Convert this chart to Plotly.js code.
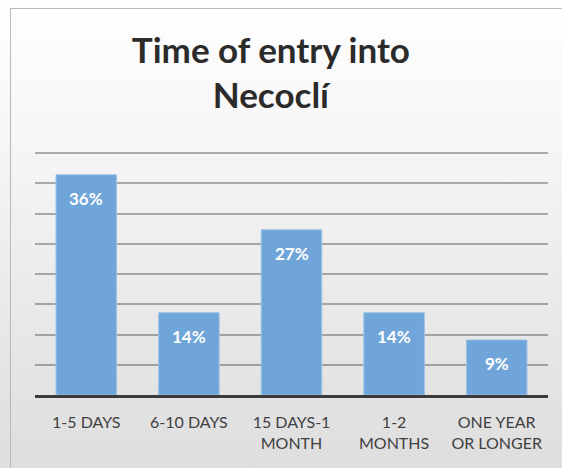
<!DOCTYPE html>
<html>
<head>
<meta charset="utf-8">
<script src="https://cdn.plot.ly/plotly-3.0.1.min.js"></script>
<style>
  html, body { margin:0; padding:0; width:562px; height:468px; overflow:hidden;
    background: linear-gradient(to bottom, #ffffff 0%, #f6f6f6 30%, #e6e6e6 75%, #dedede 100%); }
  #frame { position:absolute; left:10px; top:8px; width:620px; height:520px;
    border-left:1.5px solid #b8b8b8; border-top:1.5px solid #b8b8b8; pointer-events:none; }
  #chart { position:absolute; left:0; top:0; width:562px; height:468px; }
</style>
</head>
<body>
<div id="frame"></div>
<div id="chart"></div>
<script>
const categories = ['1-5 DAYS', '6-10 DAYS', '15 DAYS-1<br>MONTH', '1-2<br>MONTHS', 'ONE YEAR<br>OR LONGER'];
const values = [36.4, 13.6, 27.3, 13.6, 9.1];
const valueLabels = ['36%', '14%', '27%', '14%', '9%'];
const gridTicks = [0, 5, 10, 15, 20, 25, 30, 35, 40];

const FONT = 'Lato, "Open Sans", sans-serif';

const trace = {
  type: 'bar',
  x: categories,
  y: values,
  width: 0.59,
  marker: { color: '#6fa5d8', line: { color: '#9cc3e8', width: 1 } },
  hoverinfo: 'none'
};

const annotations = categories.map((c, i) => ({
  x: c, y: values[i], xref: 'x', yref: 'y',
  text: '<b>' + valueLabels[i] + '</b>',
  showarrow: false, yanchor: 'middle', yshift: -24,
  font: { family: FONT, size: 17, color: '#ffffff' }
}));

const layout = {
  width: 562, height: 468,
  paper_bgcolor: 'rgba(0,0,0,0)',
  plot_bgcolor: 'rgba(0,0,0,0)',
  margin: { l: 35, r: 14, t: 150, b: 73 },
  title: {
    text: '<b>Time of entry into<br>Necoclí</b>',
    font: { family: FONT, size: 35, color: '#2b2b2b' },
    x: 0.482, xanchor: 'center', xref: 'container',
    y: 0.866, yanchor: 'top', yref: 'container'
  },
  xaxis: {
    type: 'category',
    showline: true, linecolor: '#3a3a3a', linewidth: 3,
    ticks: 'outside', ticklen: 11, tickcolor: 'rgba(0,0,0,0)',
    tickfont: { family: FONT, size: 16, color: '#404040' },
    showgrid: false, fixedrange: true
  },
  yaxis: {
    range: [0, 40.5],
    tickvals: gridTicks,
    showticklabels: false,
    showgrid: true, gridcolor: 'rgba(0,0,0,0.3)', gridwidth: 2,
    zeroline: false, fixedrange: true
  },
  bargap: 0.41,
  showlegend: false,
  annotations: annotations
};

Plotly.newPlot('chart', [trace], layout, { displayModeBar: false, staticPlot: true });
</script>
</body>
</html>
